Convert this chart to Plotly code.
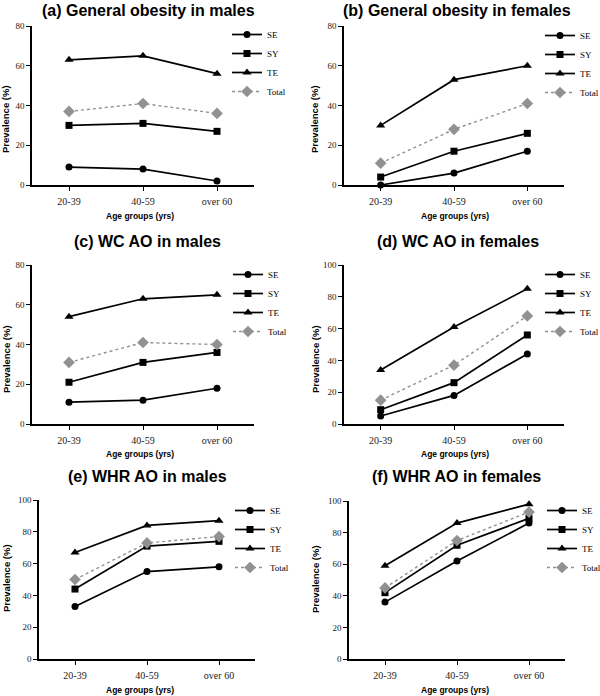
import plotly.graph_objects as go

# x categories shared by all panels
AGE_GROUPS = ["20-39", "40-59", "over 60"]
SERIES = ["SE", "SY", "TE", "Total"]

# prevalence (%), order: 20-39, 40-59, over 60
gen_male_se = [9, 8, 2]
gen_male_sy = [30, 31, 27]
gen_male_te = [63, 65, 56]
gen_male_total = [37, 41, 36]

gen_female_se = [0, 6, 17]
gen_female_sy = [4, 17, 26]
gen_female_te = [30, 53, 60]
gen_female_total = [11, 28, 41]

wc_male_se = [11, 12, 18]
wc_male_sy = [21, 31, 36]
wc_male_te = [54, 63, 65]
wc_male_total = [31, 41, 40]

wc_female_se = [5, 18, 44]
wc_female_sy = [9, 26, 56]
wc_female_te = [34, 61, 85]
wc_female_total = [15, 37, 68]

whr_male_se = [33, 55, 58]
whr_male_sy = [44, 71, 74]
whr_male_te = [67, 84, 87]
whr_male_total = [50, 73, 77]

whr_female_se = [36, 62, 86]
whr_female_sy = [42, 72, 89]
whr_female_te = [59, 86, 98]
whr_female_total = [45, 75, 93]

PANEL_TITLES = [
    "(a) General obesity in males",
    "(b) General obesity in females",
    "(c) WC AO in males",
    "(d) WC AO in females",
    "(e) WHR AO in males",
    "(f) WHR AO in females",
]
Y_MAX = [80, 80, 80, 100, 100, 100]

panel_data = [
    [gen_male_se, gen_male_sy, gen_male_te, gen_male_total],
    [gen_female_se, gen_female_sy, gen_female_te, gen_female_total],
    [wc_male_se, wc_male_sy, wc_male_te, wc_male_total],
    [wc_female_se, wc_female_sy, wc_female_te, wc_female_total],
    [whr_male_se, whr_male_sy, whr_male_te, whr_male_total],
    [whr_female_se, whr_female_sy, whr_female_te, whr_female_total],
]

# --- layout (pixels in a 600x696 page) ---
W, H = 600, 696
# x extent of axes and y extent (top, bottom) of each plot area
x_px = [(32, 254), (344, 564), (32, 254), (344, 564), (39, 255), (349, 565)]
y_px = [(26, 185), (26, 185), (265, 424), (265, 424), (500, 659), (501, 659)]
title_pos = [(148, 10), (457, 10), (147, 241), (458, 241), (147, 477), (456, 477)]
ytitle_pos = [(6, 119), (315, 119), (6, 359), (315, 359), (6, 578), (315, 579)]
xtitle_pos = [(140, 216), (455, 216), (140, 454), (455, 454), (140, 690), (455, 690)]
legend_pos = [(227, 20), (540, 21), (228, 260), (540, 260), (230, 496), (542, 496)]

styles = {
    "SE": dict(symbol="circle", color="black", dash="solid", size=7),
    "SY": dict(symbol="square", color="black", dash="solid", size=7),
    "TE": dict(symbol="triangle-up", color="black", dash="solid", size=8),
    "Total": dict(symbol="diamond", color="rgb(145,145,145)", dash="dot", size=9),
}

SERIF = "Liberation Serif, Times New Roman, serif"
SANS = "Liberation Sans, Arial, sans-serif"

fig = go.Figure()
annotations = []

for i, (title, series_vals) in enumerate(zip(PANEL_TITLES, panel_data)):
    n = "" if i == 0 else str(i + 1)
    legend_name = "legend" + n
    for name, vals in zip(SERIES, series_vals):
        st = styles[name]
        fig.add_trace(go.Scatter(
            x=AGE_GROUPS, y=vals, name=name, mode="lines+markers",
            xaxis="x" + n, yaxis="y" + n, legend=legend_name,
            cliponaxis=False,
            line=dict(color=st["color"], width=1.7 if name != "Total" else 1.4, dash=st["dash"]),
            marker=dict(symbol=st["symbol"], size=st["size"], color=st["color"]),
        ))

    x0, x1 = x_px[i]
    yt, yb = y_px[i]
    fig.update_layout(**{
        "xaxis" + n: dict(
            domain=[x0 / W, x1 / W], anchor="y" + n, type="category",
            range=[-0.5, 2.5], showline=True, linecolor="black", linewidth=1.6,
            ticks="outside", ticklen=4, tickwidth=1.4, tickcolor="black",
            showgrid=False, zeroline=False, ticklabelstandoff=2,
            tickfont=dict(family=SERIF, size=10, color="#222"),
        ),
        "yaxis" + n: dict(
            domain=[1 - yb / H, 1 - yt / H], anchor="x" + n,
            range=[0, Y_MAX[i]], dtick=20, showline=True, linecolor="black",
            linewidth=1.6, ticks="outside", ticklen=4, tickwidth=1.4,
            tickcolor="black", showgrid=False, zeroline=False,
            tickfont=dict(family=SERIF, size=9, color="#222"),
        ),
        legend_name: dict(
            x=legend_pos[i][0] / W, y=1 - legend_pos[i][1] / H,
            xanchor="left", yanchor="top", bgcolor="rgba(0,0,0,0)",
            font=dict(family=SERIF, size=9, color="black"),
            itemwidth=30, tracegroupgap=0,
        ),
    })

    tx, ty = title_pos[i]
    annotations.append(dict(
        text="<b>" + title + "</b>", x=tx / W, y=1 - ty / H, xref="paper", yref="paper",
        showarrow=False, xanchor="center", yanchor="middle",
        font=dict(family=SANS, size=16, color="black"),
    ))
    ax, ay = ytitle_pos[i]
    annotations.append(dict(
        text="<b>Prevalence (%)</b>", x=ax / W, y=1 - ay / H, xref="paper", yref="paper",
        showarrow=False, textangle=-90, xanchor="center", yanchor="middle",
        font=dict(family=SANS, size=9.5, color="black"),
    ))
    bx, by = xtitle_pos[i]
    annotations.append(dict(
        text="<b>Age groups (yrs)</b>", x=bx / W, y=1 - by / H, xref="paper", yref="paper",
        showarrow=False, xanchor="center", yanchor="middle",
        font=dict(family=SANS, size=8.5, color="black"),
    ))

fig.update_layout(
    width=W, height=H,
    margin=dict(l=0, r=0, t=0, b=0, autoexpand=False),
    paper_bgcolor="white", plot_bgcolor="white",
    annotations=annotations,
    showlegend=True,
)

# drop the browser's default body margin so the figure sits at the page corner
fig.write_html("out.html", config={"displayModeBar": False},
               post_script="document.body.style.margin = '0';")
